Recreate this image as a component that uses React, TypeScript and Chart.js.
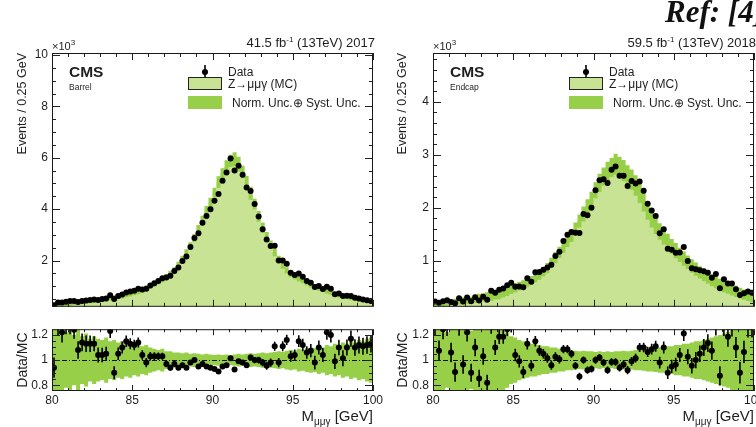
import React, { useEffect, useRef } from "react";
import { Chart, registerables } from "chart.js";
Chart.register(...registerables);

const FONT = "'Liberation Sans', Arial, Helvetica, sans-serif";
const TEXT = "#1e1e1e";
const MC_COLOR = "#c9e394";
const BAND_COLOR = "#97cf49";

// ---------- axes ----------
const massRange = [80, 100];
const binWidth = 0.25;
const xTicks = [80, 85, 90, 95, 100];
const barrelYTicks = [2, 4, 6, 8, 10];
const endcapYTicks = [1, 2, 3, 4];
const ratioYTicks = [0.8, 1, 1.2];

// ---------- Barrel (2017), events x10^3 per 0.25 GeV ----------
const mcBarrel = [
  0.28, 0.29, 0.30, 0.31, 0.33, 0.34, 0.36, 0.37, 0.39, 0.41,
  0.43, 0.45, 0.48, 0.50, 0.53, 0.56, 0.59, 0.62, 0.66, 0.70,
  0.74, 0.79, 0.84, 0.92, 1.00, 1.08, 1.17, 1.27, 1.38, 1.50,
  1.64, 1.84, 2.07, 2.30, 2.58, 2.88, 3.22, 3.58, 3.93, 4.25,
  4.65, 5.05, 5.38, 5.65, 5.88, 5.95, 5.75, 5.45, 5.05, 4.62,
  4.20, 3.72, 3.28, 2.95, 2.62, 2.32, 2.04, 1.80, 1.62, 1.48,
  1.38, 1.30, 1.22, 1.14, 1.06, 0.99, 0.92, 0.86, 0.80, 0.75,
  0.70, 0.65, 0.61, 0.57, 0.53, 0.50, 0.47, 0.44, 0.41, 0.38,
];
const ratioBarrel = [
  0.94, 1.28, 1.22, 1.28, 1.28, 1.24, 1.08, 1.14, 1.13, 1.13,
  1.13, 1.04, 1.04, 1.05, 1.23, 0.90, 1.05, 1.10, 1.15, 1.13,
  1.12, 1.14, 1.04, 0.98, 1.03, 1.03, 1.03, 1.03, 0.97, 0.94,
  0.97, 0.94, 0.96, 0.94, 0.98, 1.00, 0.95, 0.97, 0.95, 0.94,
  0.93, 0.91, 0.95, 0.96, 1.015, 0.925, 0.99, 0.98, 0.96, 1.02,
  1.00, 1.00, 0.98, 0.955, 0.98, 1.11, 0.98, 1.11, 1.16, 1.03,
  1.04, 1.15, 1.12, 1.06, 1.075, 0.98, 1.10, 1.04, 1.22, 1.20,
  0.99, 1.10, 1.015, 1.10, 1.17, 1.10, 1.12, 1.11, 1.12, 1.13,
];
const ratioErrBarrel = [
  0.08, 0.08, 0.08, 0.075, 0.075, 0.07, 0.07, 0.07, 0.065, 0.065,
  0.06, 0.06, 0.058, 0.056, 0.054, 0.052, 0.05, 0.048, 0.046, 0.044,
  0.042, 0.04, 0.038, 0.036, 0.034, 0.032, 0.03, 0.028, 0.026, 0.024,
  0.022, 0.02, 0.019, 0.018, 0.017, 0.016, 0.015, 0.014, 0.014, 0.013,
  0.013, 0.013, 0.013, 0.014, 0.015, 0.016, 0.017, 0.019, 0.021, 0.023,
  0.025, 0.027, 0.029, 0.031, 0.033, 0.035, 0.037, 0.039, 0.041, 0.043,
  0.045, 0.047, 0.049, 0.05, 0.052, 0.054, 0.055, 0.056, 0.058, 0.06,
  0.061, 0.062, 0.063, 0.064, 0.065, 0.066, 0.067, 0.068, 0.069, 0.07,
];
const bandBarrel = [
  0.30, 0.28, 0.30, 0.22, 0.26, 0.20, 0.24, 0.19, 0.21, 0.17,
  0.19, 0.17, 0.16, 0.18, 0.15, 0.16, 0.14, 0.15, 0.13, 0.14,
  0.12, 0.13, 0.11, 0.12, 0.10, 0.09, 0.08, 0.09, 0.07, 0.07,
  0.06, 0.06, 0.055, 0.06, 0.05, 0.055, 0.05, 0.045, 0.05, 0.045,
  0.04, 0.045, 0.04, 0.045, 0.04, 0.045, 0.05, 0.045, 0.05, 0.055,
  0.05, 0.055, 0.06, 0.055, 0.06, 0.065, 0.07, 0.065, 0.075, 0.08,
  0.075, 0.09, 0.085, 0.095, 0.10, 0.095, 0.11, 0.10, 0.12, 0.11,
  0.13, 0.12, 0.14, 0.13, 0.15, 0.14, 0.16, 0.15, 0.17, 0.18,
];

// ---------- Endcap (2018), events x10^3 per 0.25 GeV ----------
const mcEndcap = [
  0.18, 0.19, 0.19, 0.20, 0.21, 0.22, 0.23, 0.24, 0.25, 0.26,
  0.28, 0.29, 0.31, 0.32, 0.34, 0.36, 0.38, 0.40, 0.43, 0.46,
  0.49, 0.52, 0.55, 0.59, 0.63, 0.68, 0.73, 0.79, 0.86, 0.96,
  1.06, 1.16, 1.26, 1.37, 1.47, 1.60, 1.75, 1.88, 2.02, 2.15,
  2.33, 2.47, 2.59, 2.68, 2.76, 2.82, 2.77, 2.70, 2.62, 2.53,
  2.42, 2.27, 2.11, 1.95, 1.79, 1.66, 1.55, 1.45, 1.36, 1.27,
  1.19, 1.11, 1.04, 0.97, 0.90, 0.84, 0.78, 0.73, 0.68, 0.63,
  0.59, 0.55, 0.51, 0.48, 0.45, 0.42, 0.39, 0.36, 0.33, 0.31,
];
const ratioEndcap = [
  1.28, 1.075, 1.245, 1.27, 1.06, 0.905, 1.27, 0.965, 1.22, 0.90,
  1.10, 0.855, 1.03, 0.82, 1.27, 1.10, 1.185, 1.185, 1.245, 1.27,
  1.04, 0.99, 0.905, 1.13, 0.955, 1.15, 1.075, 1.05, 1.015, 0.96,
  1.027, 1.007, 1.087, 1.087, 1.05, 0.955, 0.87, 1.00, 0.92, 0.93,
  1.00, 1.02, 0.98, 0.92, 0.985, 0.985, 0.94, 0.965, 0.92, 0.99,
  1.015, 1.10, 1.10, 1.065, 1.087, 1.11, 0.98, 1.10, 0.90, 0.95,
  0.965, 1.04, 1.21, 1.027, 0.955, 1.00, 1.05, 1.10, 1.135, 1.075,
  1.27, 0.875, 1.27, 1.185, 1.27, 1.10, 0.90, 1.065, 1.27, 1.27,
];
const ratioErrEndcap = [
  0.08, 0.08, 0.08, 0.078, 0.078, 0.076, 0.076, 0.074, 0.072, 0.072,
  0.07, 0.068, 0.066, 0.064, 0.062, 0.06, 0.058, 0.056, 0.054, 0.052,
  0.05, 0.048, 0.046, 0.045, 0.044, 0.042, 0.04, 0.038, 0.037, 0.036,
  0.035, 0.034, 0.033, 0.032, 0.031, 0.03, 0.03, 0.029, 0.029, 0.028,
  0.028, 0.028, 0.029, 0.029, 0.03, 0.03, 0.031, 0.032, 0.033, 0.034,
  0.035, 0.036, 0.038, 0.04, 0.042, 0.044, 0.046, 0.048, 0.05, 0.052,
  0.054, 0.056, 0.058, 0.06, 0.062, 0.064, 0.066, 0.068, 0.07, 0.072,
  0.074, 0.076, 0.078, 0.08, 0.082, 0.084, 0.086, 0.088, 0.09, 0.09,
];
const bandEndcap = [
  0.30, 0.26, 0.30, 0.22, 0.25, 0.28, 0.24, 0.30, 0.26, 0.23,
  0.28, 0.30, 0.24, 0.27, 0.30, 0.25, 0.28, 0.24, 0.22, 0.19,
  0.18, 0.16, 0.15, 0.14, 0.13, 0.13, 0.12, 0.11, 0.11, 0.10,
  0.10, 0.09, 0.09, 0.08, 0.08, 0.075, 0.07, 0.075, 0.07, 0.07,
  0.065, 0.07, 0.065, 0.07, 0.065, 0.07, 0.07, 0.075, 0.07, 0.075,
  0.08, 0.08, 0.085, 0.09, 0.09, 0.095, 0.10, 0.10, 0.11, 0.11,
  0.12, 0.12, 0.13, 0.13, 0.14, 0.15, 0.15, 0.16, 0.17, 0.18,
  0.19, 0.20, 0.21, 0.22, 0.24, 0.25, 0.26, 0.27, 0.28, 0.30,
];

// ---------- helpers ----------
const binCenters = mcBarrel.map((_, i) => massRange[0] + binWidth * (i + 0.5));
const binEdges = [...mcBarrel.map((_, i) => massRange[0] + binWidth * i), massRange[1]];
const stepTable = (vals: number[]) =>
  binEdges.map((x, i) => ({ x, y: vals[Math.min(i, vals.length - 1)] }));

type Seg = { t: string; size: number; dy?: number; bold?: boolean };
function drawRich(ctx: CanvasRenderingContext2D, segs: Seg[], x: number, y: number, align: "left" | "right") {
  ctx.save();
  ctx.fillStyle = TEXT;
  ctx.textAlign = "left";
  ctx.textBaseline = "alphabetic";
  const f = (s: Seg) => `${s.bold ? "bold " : ""}${s.size}px ${FONT}`;
  let total = 0;
  for (const s of segs) { ctx.font = f(s); total += ctx.measureText(s.t).width; }
  let cx = align === "right" ? x - total : x;
  for (const s of segs) { ctx.font = f(s); ctx.fillText(s.t, cx, y + (s.dy || 0)); cx += ctx.measureText(s.t).width; }
  ctx.restore();
}

function seg(ctx: CanvasRenderingContext2D, x1: number, y1: number, x2: number, y2: number) {
  ctx.beginPath(); ctx.moveTo(x1, y1); ctx.lineTo(x2, y2); ctx.stroke();
}

const cmsPlugin = {
  id: "cms",
  beforeDatasetDraw(chart: any, args: any, opts: any) {
    if (args.index !== 0 || opts.kind !== "ratio") return;
    const { ctx, chartArea: a, scales } = chart;
    const xs = scales.x, ys = scales.y;
    ctx.save();
    ctx.beginPath(); ctx.rect(a.left, a.top, a.right - a.left, a.bottom - a.top); ctx.clip();
    ctx.strokeStyle = "#111"; ctx.lineWidth = 1; ctx.setLineDash([5, 2, 1, 2]);
    const py = Math.round(ys.getPixelForValue(1)) + 0.5;
    seg(ctx, a.left, py, a.right, py);
    ctx.setLineDash([]);
    const ds = chart.data.datasets[0];
    ctx.strokeStyle = "#000"; ctx.lineWidth = 1.6;
    ds.data.forEach((p: any, i: number) => {
      const e = ds.yErr[i];
      const px = xs.getPixelForValue(p.x);
      seg(ctx, px, ys.getPixelForValue(p.y - e), px, ys.getPixelForValue(p.y + e));
    });
    ctx.restore();
  },
  afterDraw(chart: any, _args: any, opts: any) {
    const { ctx, chartArea: a, scales } = chart;
    const xs = scales.x, ys = scales.y;
    ctx.save();
    ctx.strokeStyle = "#222"; ctx.lineWidth = 1;
    for (let v = xs.min; v <= xs.max + 1e-6; v += opts.xMinor) {
      const px = Math.round(xs.getPixelForValue(v)) + 0.5;
      const major = xTicks.some((m) => Math.abs(m - v) < 1e-6);
      const L = major ? opts.xMajorLen : opts.xMinorLen;
      seg(ctx, px, a.bottom, px, a.bottom - L);
      seg(ctx, px, a.top, px, a.top + L);
    }
    const start = Math.ceil(ys.min / opts.yMinor - 1e-6);
    const end = Math.floor(ys.max / opts.yMinor + 1e-6);
    for (let k = start; k <= end; k++) {
      const v = k * opts.yMinor;
      const py = Math.round(ys.getPixelForValue(v)) + 0.5;
      const major = (opts.yMajor as number[]).some((m: number) => Math.abs(m - v) < 1e-6);
      const L = major ? opts.yMajorLen : opts.yMinorLen;
      seg(ctx, a.left, py, a.left + L, py);
      seg(ctx, a.right, py, a.right - L, py);
    }
    ctx.strokeStyle = "#1a1a1a";
    ctx.strokeRect(a.left + 0.5, a.top + 0.5, a.right - a.left - 1, a.bottom - a.top - 1);
    ctx.restore();

    if (opts.kind === "main") {
      const L = a.left, T = a.top;
      drawRich(ctx, [{ t: opts.lumi + " fb", size: 13 }, { t: "-1", size: 8, dy: -5 }, { t: " (13TeV) " + opts.year, size: 13 }], a.right + 2, T - 6, "right");
      drawRich(ctx, [{ t: "×10", size: 11 }, { t: "3", size: 8, dy: -5 }], L, T - 3, "left");
      drawRich(ctx, [{ t: "CMS", size: 15.5, bold: true }], L + 17, T + 24, "left");
      drawRich(ctx, [{ t: opts.region, size: 8.5 }], L + 17, T + 37, "left");
      ctx.save();
      ctx.fillStyle = "#000"; ctx.strokeStyle = "#000";
      ctx.beginPath(); ctx.arc(L + 153, T + 19, 3, 0, Math.PI * 2); ctx.fill();
      ctx.lineWidth = 1.6; seg(ctx, L + 153, T + 12, L + 153, T + 26);
      ctx.fillStyle = MC_COLOR; ctx.fillRect(L + 136, T + 24, 34, 13);
      ctx.lineWidth = 1; ctx.strokeStyle = "#222"; ctx.strokeRect(L + 136.5, T + 24.5, 33, 12);
      ctx.fillStyle = BAND_COLOR; ctx.fillRect(L + 136, T + 43, 34, 13);
      ctx.restore();
      drawRich(ctx, [{ t: "Data", size: 12 }], L + 176, T + 23, "left");
      drawRich(ctx, [{ t: "Z→μμγ (MC)", size: 12 }], L + 176, T + 35, "left");
      drawRich(ctx, [{ t: "Norm. Unc.⊕ Syst. Unc.", size: 12 }], L + 180, T + 54, "left");
    } else {
      drawRich(ctx, [{ t: "M", size: 15 }, { t: "μμγ", size: 10, dy: 4 }, { t: " [GeV]", size: 15 }], a.right, a.bottom + 30, "right");
    }
  },
};

const tickFont = { family: FONT, size: 12 };

function xScale(ratio: boolean) {
  return {
    type: "linear",
    min: massRange[0],
    max: massRange[1],
    afterBuildTicks: (ax: any) => { ax.ticks = xTicks.map((v) => ({ value: v })); },
    ticks: { display: ratio, font: tickFont, color: TEXT, padding: 2, maxRotation: 0, autoSkip: false, callback: (v: any) => String(v) },
    grid: { display: false, drawTicks: false },
    border: { display: false },
    afterFit: (s: any) => { s.height = ratio ? 36 : 0; },
  };
}

function yScale(min: number, max: number, ticks: number[], width: number, title: string, align: string, size: number) {
  return {
    type: "linear",
    min, max,
    afterBuildTicks: (ax: any) => { ax.ticks = ticks.map((v) => ({ value: v })); },
    ticks: { font: tickFont, color: TEXT, padding: 4, callback: (v: any) => String(v) },
    grid: { display: false, drawTicks: false },
    border: { display: false },
    title: { display: true, text: title, align, color: TEXT, font: { family: FONT, size }, padding: { top: 15, bottom: 0 } },
    afterFit: (s: any) => { s.width = width; },
  };
}

type Panel = {
  mc: number[]; ratio: number[]; err: number[]; band: number[];
  yMin: number; yMax: number; yTicks: number[]; yMinor: number;
  region: string; lumi: string; year: string; axisWidth: number; padRight: number;
};

function mainConfig(p: Panel): any {
  const data = p.mc.map((m, i) => m * p.ratio[i]);
  return {
    type: "line",
    data: {
      datasets: [
        { label: "Data", data: binCenters.map((x, i) => ({ x, y: data[i] })), showLine: false, pointRadius: 3, pointBackgroundColor: "#000", pointBorderWidth: 0, order: 0 },
        { label: "MC", data: stepTable(p.mc), stepped: "before", fill: "start", backgroundColor: MC_COLOR, borderColor: "rgba(0,0,0,0)", borderWidth: 0, pointRadius: 0, order: 3 },
        { label: "bandLo", data: stepTable(p.mc.map((m, i) => m * (1 - p.band[i]))), stepped: "before", fill: false, borderColor: "rgba(0,0,0,0)", borderWidth: 0, pointRadius: 0, order: 2 },
        { label: "bandHi", data: stepTable(p.mc.map((m, i) => m * (1 + p.band[i]))), stepped: "before", fill: "-1", backgroundColor: BAND_COLOR, borderColor: "rgba(0,0,0,0)", borderWidth: 0, pointRadius: 0, order: 2 },
      ],
    },
    options: {
      animation: false, responsive: false, events: [],
      layout: { padding: { left: 0, top: 53, right: p.padRight, bottom: 5 } },
      scales: { x: xScale(false), y: yScale(p.yMin, p.yMax, p.yTicks, p.axisWidth, "Events / 0.25 GeV", "end", 12.5) },
      plugins: {
        legend: { display: false }, tooltip: { enabled: false },
        cms: { kind: "main", xMinor: 1, xMajorLen: 7, xMinorLen: 4, yMinor: p.yMinor, yMajor: p.yTicks, yMajorLen: 8, yMinorLen: 4, region: p.region, lumi: p.lumi, year: p.year },
      },
    },
    plugins: [cmsPlugin],
  };
}

function ratioConfig(p: Panel): any {
  return {
    type: "line",
    data: {
      datasets: [
        { label: "Ratio", data: binCenters.map((x, i) => ({ x, y: p.ratio[i] })), yErr: p.err, showLine: false, pointRadius: 3, pointBackgroundColor: "#000", pointBorderWidth: 0, order: 0 },
        { label: "bandLo", data: stepTable(p.band.map((u) => 1 - u)), stepped: "before", fill: false, borderColor: "rgba(0,0,0,0)", borderWidth: 0, pointRadius: 0, order: 2 },
        { label: "bandHi", data: stepTable(p.band.map((u) => 1 + u)), stepped: "before", fill: "-1", backgroundColor: BAND_COLOR, borderColor: "rgba(0,0,0,0)", borderWidth: 0, pointRadius: 0, order: 2 },
      ],
    },
    options: {
      animation: false, responsive: false, events: [],
      layout: { padding: { left: 0, top: 6, right: p.padRight, bottom: 0 } },
      scales: { x: xScale(true), y: yScale(0.755, 1.245, ratioYTicks, p.axisWidth, "Data/MC", "center", 14) },
      plugins: {
        legend: { display: false }, tooltip: { enabled: false },
        cms: { kind: "ratio", xMinor: 1, xMajorLen: 6, xMinorLen: 3, yMinor: 0.05, yMajor: ratioYTicks, yMajorLen: 8, yMinorLen: 4 },
      },
    },
    plugins: [cmsPlugin],
  };
}

const barrel: Panel = { mc: mcBarrel, ratio: ratioBarrel, err: ratioErrBarrel, band: bandBarrel, yMin: 0.2, yMax: 10.08, yTicks: barrelYTicks, yMinor: 0.5, region: "Barrel", lumi: "41.5", year: "2017", axisWidth: 52, padRight: 17 };
const endcap: Panel = { mc: mcEndcap, ratio: ratioEndcap, err: ratioErrEndcap, band: bandEndcap, yMin: 0.13, yMax: 4.92, yTicks: endcapYTicks, yMinor: 0.2, region: "Endcap", lumi: "59.5", year: "2018", axisWidth: 53, padRight: 16 };

export default function App() {
  const c1 = useRef<HTMLCanvasElement>(null);
  const c2 = useRef<HTMLCanvasElement>(null);
  const c3 = useRef<HTMLCanvasElement>(null);
  const c4 = useRef<HTMLCanvasElement>(null);
  useEffect(() => {
    document.body.style.margin = "0";
    Chart.defaults.font.family = FONT;
    const charts = [
      new Chart(c1.current!, mainConfig(barrel)),
      new Chart(c2.current!, ratioConfig(barrel)),
      new Chart(c3.current!, mainConfig(endcap)),
      new Chart(c4.current!, ratioConfig(endcap)),
    ];
    return () => charts.forEach((c) => c.destroy());
  }, []);
  const abs = (left: number, top: number): React.CSSProperties => ({ position: "absolute", left, top });
  return (
    <div style={{ position: "relative", width: 756, height: 427, overflow: "hidden", background: "#fff" }}>
      <canvas ref={c1} width={390} height={318} style={abs(0, 0)} />
      <canvas ref={c2} width={390} height={109} style={abs(0, 318)} />
      <canvas ref={c3} width={390} height={318} style={abs(380, 0)} />
      <canvas ref={c4} width={390} height={109} style={abs(380, 318)} />
      <div style={{ position: "absolute", left: 665, top: -6, font: "bold italic 31px 'Liberation Serif', 'DejaVu Serif', serif", color: "#111", whiteSpace: "nowrap" }}>
        Ref: [4]
      </div>
    </div>
  );
}
